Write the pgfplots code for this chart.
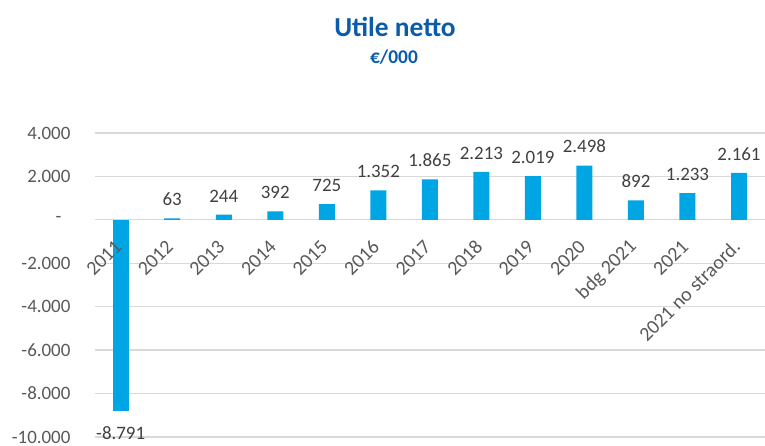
\documentclass[border=0pt]{standalone}
\usepackage{pgfplots}
\pgfplotsset{compat=1.18}
\usepackage{fontspec}
\setmainfont{Carlito}
\definecolor{titleblue}{HTML}{0B5CA8}
\definecolor{barblue}{HTML}{00A5E3}
\definecolor{gridgray}{HTML}{D9D9D9}
\definecolor{ticklab}{HTML}{595959}
\definecolor{datalab}{HTML}{404040}
\begin{document}
\begin{tikzpicture}[x=1bp,y=1bp]
\node[font=\fontsize{27.5}{30}\selectfont\bfseries, text=titleblue] at (395,419) {Utile netto};
\node[font=\fontsize{19.5}{22}\selectfont\bfseries, text=titleblue] at (394,389) {€/000};
\begin{axis}[
  set layers=standard,
  at={(94.95bp,9bp)}, anchor=south west,
  scale only axis, width=669.8bp, height=304bp,
  xmin=-0.5, xmax=12.5, ymin=-10000, ymax=4000,
  scaled y ticks=false,
  axis line style={draw=none},
  major tick length=0pt,
  ytick={-10000,-8000,-6000,-4000,-2000,0,2000,4000},
  yticklabels={-10.000,-8.000,-6.000,-4.000,-2.000,-\hspace*{9bp},2.000,4.000},
  yticklabel style={font=\fontsize{19}{22}\selectfont, text=ticklab, xshift=-21bp},
  xtick={0,...,12},
  xticklabels={2011,2012,2013,2014,2015,2016,2017,2018,2019,2020,bdg 2021,2021,2021 no straord.},
  xticklabel style={/pgfplots/on layer=axis foreground, font=\fontsize{20}{22}\selectfont, text=ticklab, yshift=196bp, xshift=0bp, rotate=45, anchor=east},
  ymajorgrids, major grid style={draw=gridgray, line width=1.3bp},
  ybar, bar width=16bp, bar shift=0pt,
  point meta=explicit symbolic,
  nodes near coords,
  every node near coord/.append style={font=\fontsize{19}{22}\selectfont, text=datalab},
  clip=false,
]
\addplot[fill=barblue, draw=none, nodes near coords style={anchor=south, yshift=9bp}] coordinates {
(1,63) [63]
(2,244) [244]
(3,392) [392]
(4,725) [725]
(5,1352) [1.352]
(6,1865) [1.865]
(7,2213) [2.213]
(8,2019) [2.019]
(9,2498) [2.498]
(10,892) [892]
(11,1233) [1.233]
(12,2161) [2.161]
};
\addplot[fill=barblue, draw=none, nodes near coords style={anchor=north, yshift=-12.5bp}] coordinates {
(0,-8791) [-8.791]
};
\end{axis}
\pgfresetboundingbox
\useasboundingbox (0,0) rectangle (765,446);
\end{tikzpicture}
\end{document}
